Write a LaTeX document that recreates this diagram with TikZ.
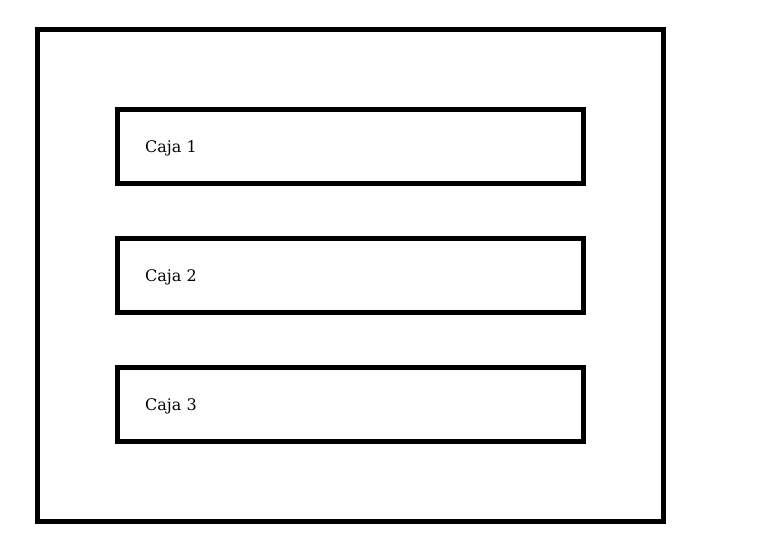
\documentclass[tikz,border=0pt]{standalone}
\usepackage{fontspec}
\setmainfont{DejaVu Serif}
\begin{document}
\begin{tikzpicture}[x=1pt,y=-1pt,
  boxline/.style={draw=black,line width=5pt,fill=none},
  inbox/.style={boxline,minimum width=466pt,minimum height=74pt,inner sep=0pt,outer sep=0pt,anchor=north west},
  lbl/.style={anchor=base west,inner sep=0pt,font=\fontsize{16}{19}\selectfont}]
\useasboundingbox (0,0) rectangle (773,557);
\draw[boxline] (37.5,29.5) rectangle (663.5,521.5);
\node[inbox] (b1) at (117.5,109.5) {};
\node[inbox] (b2) at (117.5,238.5) {};
\node[inbox] (b3) at (117.5,367.5) {};
\node[lbl] (t1) at (145,152) {Caja 1};
\node[lbl] (t2) at (145,281) {Caja 2};
\node[lbl] (t3) at (145,410) {Caja 3};
\end{tikzpicture}
\end{document}
